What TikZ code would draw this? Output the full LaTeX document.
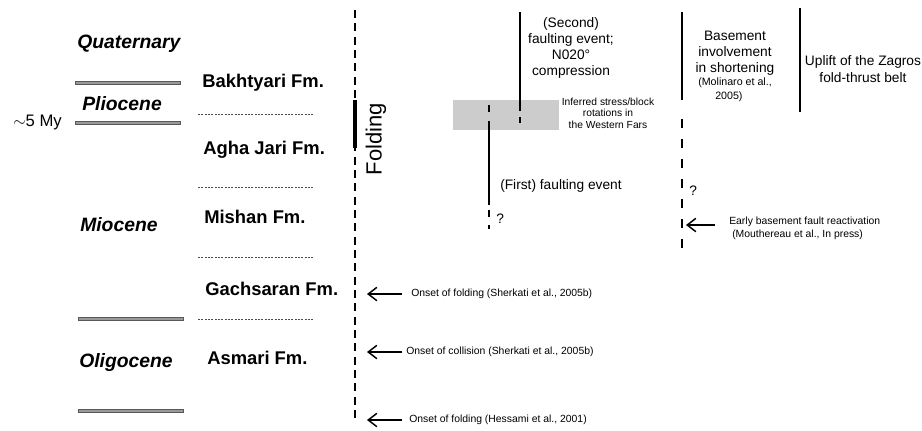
\documentclass[tikz,border=0pt]{standalone}
\usepackage{fontspec}
\setmainfont{Liberation Sans}
\usetikzlibrary{arrows.meta}
\begin{document}
\begin{tikzpicture}[x=0.75pt,y=-0.75pt,
 period/.style={font=\fontsize{14.5}{16}\selectfont\bfseries\itshape, inner sep=0, anchor=west},
 fmname/.style={font=\fontsize{13.8}{15}\selectfont\bfseries, inner sep=0, anchor=west},
 bar/.style={draw=black!65, fill=black!40, line width=0.6pt},
 fmline/.style={draw=black!70, line width=0.5pt, dash pattern=on 1.5pt off 1pt},
 evline/.style={line width=2.1pt},
 folddash/.style={line width=2.1pt, dash pattern=on 6pt off 4pt},
 basedash/.style={line width=2.1pt, dash pattern=on 6.75pt off 8.25pt},
 mid/.style={font=\fontsize{10.3}{12.2}\selectfont, inner sep=0, align=center},
 small/.style={font=\fontsize{7.8}{9}\selectfont, inner sep=0},
 note/.style={-{Straight Barb[length=6.5pt,width=10pt,line width=1.1pt]}, line width=0.8pt}
]
\useasboundingbox (0,0) rectangle (922,430);

% period bars
\draw[bar] (75,81.5) rectangle (180,84.5);
\draw[bar] (75,121.5) rectangle (180,124.5);
\draw[bar] (78,317.5) rectangle (183,320.5);
\draw[bar] (78,409.5) rectangle (183,412.5);

% periods
\node[period] (quat) at (77,44) {Quaternary};
\node[period] (plio) at (82,104) {Pliocene};
\node[period] (mio) at (80,225) {Miocene};
\node[period] (oligo) at (79,362) {Oligocene};
\node[font=\fontsize{12.5}{14}\selectfont, inner sep=0, anchor=west] (my) at (13,122) {$\sim$5 My};

% formations
\node[fmname] (bak) at (202,83) {Bakhtyari Fm.};
\node[fmname] (agha) at (203,150) {Agha Jari Fm.};
\node[fmname] (mish) at (204,217) {Mishan Fm.};
\node[fmname] (gach) at (205,289) {Gachsaran Fm.};
\node[fmname] (asm) at (207,358) {Asmari Fm.};

% formation boundaries
\coordinate (d1a) at (198,114); \coordinate (d1b) at (313,114);
\coordinate (d2a) at (198,187); \coordinate (d2b) at (313,187);
\coordinate (d3a) at (198,257); \coordinate (d3b) at (313,257);
\coordinate (d4a) at (198,319); \coordinate (d4b) at (313,319);
\draw[fmline] (d1a) -- (d1b);
\draw[fmline] (d2a) -- (d2b);
\draw[fmline] (d3a) -- (d3b);
\draw[fmline] (d4a) -- (d4b);

% folding line
\coordinate (ftop) at (355,10); \coordinate (fbot) at (355,421);
\draw[folddash] (ftop) -- (fbot);
\coordinate (fb1) at (355,100); \coordinate (fb2) at (355,148);
\draw[line width=3pt] (fb1) -- (fb2);
\node[font=\fontsize{16.5}{18}\selectfont, inner sep=0, rotate=90] (folding) at (376,139) {Folding};

% onset arrows
\coordinate (o1s) at (402,294); \coordinate (o1e) at (367,294);
\coordinate (o2s) at (402,352); \coordinate (o2e) at (367,352);
\coordinate (o3s) at (402,420); \coordinate (o3e) at (367,420);
\draw[note] (o1s) -- (o1e);
\draw[note] (o2s) -- (o2e);
\draw[note] (o3s) -- (o3e);
\node[small, anchor=west] (on1) at (411,294) {Onset of folding (Sherkati et al., 2005b)};
\node[small, anchor=west] (on2) at (406,352) {Onset of collision (Sherkati et al., 2005b)};
\node[small, anchor=west] (on3) at (409,420) {Onset of folding (Hessami et al., 2001)};

% grey box
\fill[black!20] (453,100) rectangle (559,130);
\node[small, align=center, font=\fontsize{7.7}{8.7}\selectfont] (infer) at (608,113) {Inferred stress/block\\rotations in\\the Western Fars};

% first faulting event
\coordinate (a1) at (489,105); \coordinate (a2) at (489,112);
\coordinate (a3) at (489,121); \coordinate (a4) at (489,205);
\coordinate (a5) at (489,210); \coordinate (a6) at (489,217);
\coordinate (a7) at (489,225); \coordinate (a8) at (489,229);
\draw[evline] (a1) -- (a2);
\draw[evline] (a3) -- (a4);
\draw[evline] (a5) -- (a6);
\draw[evline] (a7) -- (a8);
\node[mid, anchor=west] (first) at (500,186) {(First) faulting event};
\node[mid, anchor=west] (q1) at (496,219) {?};

% second faulting event
\coordinate (b1) at (520,12); \coordinate (b2) at (520,111);
\coordinate (b3) at (520,117); \coordinate (b4) at (520,123);
\draw[evline] (b1) -- (b2);
\draw[evline] (b3) -- (b4);
\node[mid] (second) at (571,48) {(Second)\\faulting event;\\N020°\\compression};

% basement involvement
\coordinate (c1) at (682,12); \coordinate (c2) at (682,100);
\coordinate (c3) at (682,119); \coordinate (c4) at (682,250);
\draw[evline] (c1) -- (c2);
\draw[basedash] (c3) -- (c4);
\node[mid] (base) at (735,53) {Basement\\involvement\\in shortening};
\node[small, font=\fontsize{8}{9}\selectfont, anchor=west] (mol1) at (698,83) {(Molinaro et al.,};
\node[small, font=\fontsize{8}{9}\selectfont, anchor=west] (mol2) at (715,97) {2005)};
\node[mid, anchor=west] (q2) at (689,191) {?};
\coordinate (e1) at (715,225); \coordinate (e2) at (686,225);
\draw[note] (e1) -- (e2);
\node[small, anchor=west] (early1) at (729,222) {Early basement fault reactivation};
\node[small, anchor=west] (early2) at (732,235) {(Mouthereau et al., In press)};

% uplift
\coordinate (u1) at (800,8); \coordinate (u2) at (800,112);
\draw[evline] (u1) -- (u2);
\node[mid] (uplift) at (863,69) {Uplift of the Zagros\\fold-thrust belt};
\end{tikzpicture}
\end{document}
